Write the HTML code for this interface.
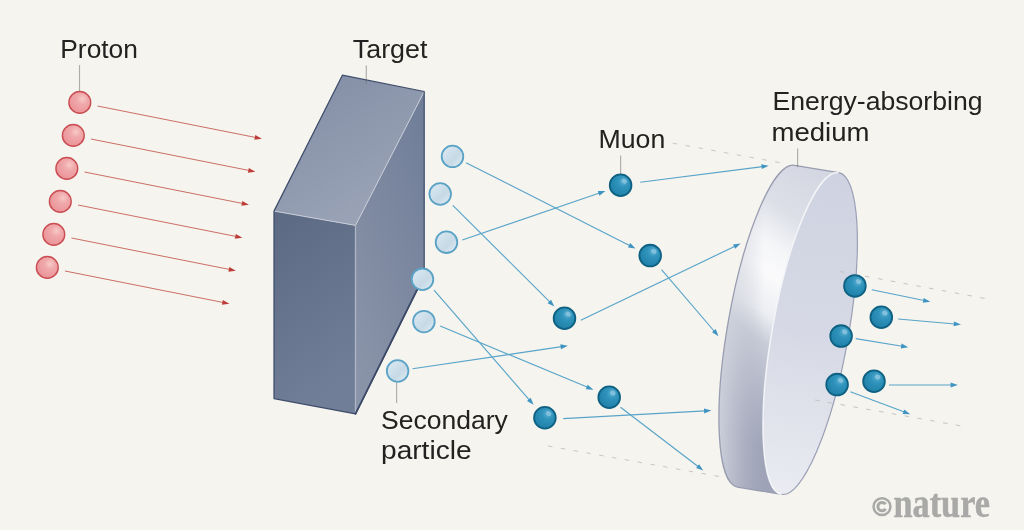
<!DOCTYPE html>
<html><head><meta charset="utf-8"><title>Muon production</title>
<style>
html,body{margin:0;padding:0;background:#f5f4ee;}
body{width:1024px;height:530px;overflow:hidden;font-family:"Liberation Sans",sans-serif;}
svg{display:block;will-change:transform;}
text{font-family:"Liberation Sans",sans-serif;fill:#222220;}
.lbl{font-size:25.2px;}
</style></head><body>
<svg width="1024" height="530" viewBox="0 0 1024 530">
<defs>
<radialGradient id="gP" cx="0.62" cy="0.34" r="0.7">
<stop offset="0" stop-color="#f7cbc8"/><stop offset="0.35" stop-color="#f0a9ab"/><stop offset="1" stop-color="#ea9297"/>
</radialGradient>
<linearGradient id="gS" x1="0.15" y1="0.15" x2="0.85" y2="0.85">
<stop offset="0" stop-color="#d8e7f1"/><stop offset="0.5" stop-color="#c9dce8"/><stop offset="0.62" stop-color="#c6d9e5"/><stop offset="1" stop-color="#d8e7f0"/>
</linearGradient>
<radialGradient id="gM" cx="0.64" cy="0.32" r="0.75">
<stop offset="0" stop-color="#5fb0d3"/><stop offset="0.35" stop-color="#2f93bb"/><stop offset="1" stop-color="#1e7fa6"/>
</radialGradient>
<linearGradient id="gTop" x1="0" y1="0" x2="0.6" y2="1">
<stop offset="0" stop-color="#808ca4"/><stop offset="1" stop-color="#9ba4b7"/>
</linearGradient>
<linearGradient id="gFront" x1="0" y1="0" x2="0.3" y2="1">
<stop offset="0" stop-color="#5b6983"/><stop offset="1" stop-color="#707e97"/>
</linearGradient>
<linearGradient id="gRight" x1="0.8" y1="0" x2="0.2" y2="1">
<stop offset="0" stop-color="#727f99"/><stop offset="1" stop-color="#8a94a9"/>
</linearGradient>
<linearGradient id="gSide" gradientUnits="userSpaceOnUse" x1="832.5" y1="171.4" x2="657" y2="426.8">
<stop offset="0" stop-color="#d3d6e1"/><stop offset="0.19" stop-color="#dcdfe7"/><stop offset="0.306" stop-color="#f5f6f8"/><stop offset="0.387" stop-color="#fafafb"/><stop offset="0.5" stop-color="#eceef2"/><stop offset="0.58" stop-color="#c8ccd8"/><stop offset="0.777" stop-color="#a9aec0"/><stop offset="0.865" stop-color="#9fa4b8"/><stop offset="1" stop-color="#9da2b6"/>
</linearGradient>
<linearGradient id="gSideTop" gradientUnits="userSpaceOnUse" x1="716" y1="0" x2="764" y2="0">
<stop offset="0" stop-color="#d6d9e2" stop-opacity="0.9"/><stop offset="0.35" stop-color="#d0d3dd" stop-opacity="0.55"/><stop offset="1" stop-color="#b0b4c4" stop-opacity="0"/>
</linearGradient>
<linearGradient id="gFace" gradientUnits="userSpaceOnUse" x1="840" y1="175" x2="785" y2="490">
<stop offset="0" stop-color="#cfd2e0"/><stop offset="0.5" stop-color="#d6d9e5"/><stop offset="1" stop-color="#e9ebf1"/>
</linearGradient>
</defs>
<rect width="1024" height="530" fill="#f5f4ee"/>

<g stroke="#c8c8c4" stroke-width="1" fill="none" stroke-dasharray="4.5 8.5">
<line x1="672.8" y1="143.2" x2="781" y2="162.8"/>
<line x1="548" y1="446" x2="725" y2="477.5"/>
</g>
<g stroke-linejoin="round">
<polygon points="342.4,75.2 424.2,91.5 355.5,225.4 274,211.1" fill="url(#gTop)"/>
<polygon points="274,211.1 355.5,225.4 355.5,413.9 274,398.6" fill="url(#gFront)"/>
<polygon points="355.5,225.4 424.2,91.5 424.2,275.5 355.5,413.9" fill="url(#gRight)"/>
<polyline points="274,211.1 355.5,225.4 424.2,91.5" fill="none" stroke="#c9ced9" stroke-width="1"/>
<line x1="355.5" y1="225.4" x2="355.5" y2="413.9" stroke="#aeb6c7" stroke-width="1.3"/>
<polygon points="342.4,75.2 424.2,91.5 424.2,275.5 355.5,413.9 274,398.6 274,211.1" fill="none" stroke="#3f4d6c" stroke-width="1.25"/>
<polyline points="424.2,275.5 355.5,413.9" fill="none" stroke="#3b4968" stroke-width="1.7" stroke-linecap="round"/>
</g>
<line x1="97.5" y1="106.0" x2="255.8" y2="137.5" stroke="#c8675e" stroke-width="0.95"/><polygon points="261.9,138.7 254.4,139.7 255.3,134.9" fill="#be3d38"/>
<line x1="91.0" y1="139.0" x2="249.3" y2="170.5" stroke="#c8675e" stroke-width="0.95"/><polygon points="255.4,171.7 247.9,172.7 248.8,167.9" fill="#be3d38"/>
<line x1="84.5" y1="172.0" x2="242.8" y2="203.5" stroke="#c8675e" stroke-width="0.95"/><polygon points="248.9,204.7 241.4,205.7 242.3,200.9" fill="#be3d38"/>
<line x1="78.0" y1="205.0" x2="236.3" y2="236.5" stroke="#c8675e" stroke-width="0.95"/><polygon points="242.4,237.7 234.9,238.7 235.8,233.9" fill="#be3d38"/>
<line x1="71.5" y1="238.0" x2="229.8" y2="269.5" stroke="#c8675e" stroke-width="0.95"/><polygon points="235.9,270.7 228.4,271.7 229.3,266.9" fill="#be3d38"/>
<line x1="65.0" y1="271.0" x2="223.3" y2="302.5" stroke="#c8675e" stroke-width="0.95"/><polygon points="229.4,303.7 221.9,304.7 222.8,299.9" fill="#be3d38"/>
<circle cx="79.8" cy="102.4" r="10.9" fill="url(#gP)" stroke="#c94d52" stroke-width="1.4"/>
<circle cx="73.3" cy="135.4" r="10.9" fill="url(#gP)" stroke="#c94d52" stroke-width="1.4"/>
<circle cx="66.8" cy="168.4" r="10.9" fill="url(#gP)" stroke="#c94d52" stroke-width="1.4"/>
<circle cx="60.3" cy="201.4" r="10.9" fill="url(#gP)" stroke="#c94d52" stroke-width="1.4"/>
<circle cx="53.8" cy="234.4" r="10.9" fill="url(#gP)" stroke="#c94d52" stroke-width="1.4"/>
<circle cx="47.3" cy="267.4" r="10.9" fill="url(#gP)" stroke="#c94d52" stroke-width="1.4"/>
<g>
<path d="M838.71,172.61 L794.41,165.31 A38.1,163.4 10.09 0 0 737.39,487.09 L781.69,494.39 A38.1,163.4 10.09 0 1 838.71,172.61 Z" fill="url(#gSide)"/>
<path d="M838.71,172.61 L794.41,165.31 A38.1,163.4 10.09 0 0 737.39,487.09 L781.69,494.39 A38.1,163.4 10.09 0 1 838.71,172.61 Z" fill="url(#gSideTop)"/>
<path d="M838.71,172.61 L794.41,165.31 A38.1,163.4 10.09 0 0 737.39,487.09 L781.69,494.39" fill="none" stroke="#999db1" stroke-width="1.3" stroke-linejoin="round"/>
<path d="M838.71,172.61 A38.1,163.4 10.09 0 0 781.69,494.39 A38.1,163.4 10.09 0 0 838.71,172.61 Z" fill="url(#gFace)"/>
<path d="M838.7,172.6 A38.1,163.4 10.09 0 0 781.7,494.4" fill="none" stroke="#f3f4f7" stroke-width="1.5"/>
<path d="M838.7,172.6 A38.1,163.4 10.09 0 1 781.7,494.4" fill="none" stroke="#9b9fb6" stroke-width="1.2"/>
</g>
<g stroke="#c4c4c2" stroke-width="1" fill="none" stroke-dasharray="4.5 8.5">
<line x1="839.6" y1="271.5" x2="988" y2="299"/>
<line x1="815" y1="400" x2="965" y2="426.6"/>
</g>
<line x1="466.0" y1="162.7" x2="630.0" y2="245.7" stroke="#58a4c9" stroke-width="1.15"/><polygon points="635.5,248.5 628.0,247.4 630.2,243.1" fill="#3f94c1"/>
<line x1="462.3" y1="240.0" x2="599.5" y2="193.0" stroke="#58a4c9" stroke-width="1.15"/><polygon points="605.4,191.0 599.4,195.7 597.8,191.0" fill="#3f94c1"/>
<line x1="452.8" y1="205.3" x2="550.0" y2="302.1" stroke="#58a4c9" stroke-width="1.15"/><polygon points="554.4,306.5 547.6,303.2 551.0,299.7" fill="#3f94c1"/>
<line x1="434.0" y1="290.2" x2="529.5" y2="400.1" stroke="#58a4c9" stroke-width="1.15"/><polygon points="533.6,404.8 527.0,401.0 530.7,397.8" fill="#3f94c1"/>
<line x1="440.2" y1="326.0" x2="587.7" y2="387.3" stroke="#58a4c9" stroke-width="1.15"/><polygon points="593.4,389.7 585.8,389.2 587.7,384.7" fill="#3f94c1"/>
<line x1="412.6" y1="368.8" x2="561.7" y2="346.6" stroke="#58a4c9" stroke-width="1.15"/><polygon points="567.8,345.7 561.0,349.2 560.3,344.3" fill="#3f94c1"/>
<line x1="580.8" y1="320.3" x2="735.0" y2="246.2" stroke="#58a4c9" stroke-width="1.15"/><polygon points="740.6,243.5 735.2,248.8 733.0,244.4" fill="#3f94c1"/>
<line x1="640.2" y1="182.3" x2="762.6" y2="166.6" stroke="#58a4c9" stroke-width="1.15"/><polygon points="768.7,165.8 761.9,169.1 761.2,164.3" fill="#3f94c1"/>
<line x1="661.5" y1="269.7" x2="714.5" y2="331.5" stroke="#58a4c9" stroke-width="1.15"/><polygon points="718.5,336.2 712.0,332.3 715.7,329.1" fill="#3f94c1"/>
<line x1="620.5" y1="407.3" x2="698.4" y2="466.7" stroke="#58a4c9" stroke-width="1.15"/><polygon points="703.3,470.5 696.1,468.1 699.1,464.2" fill="#3f94c1"/>
<line x1="563.2" y1="418.6" x2="705.1" y2="410.9" stroke="#58a4c9" stroke-width="1.15"/><polygon points="711.3,410.6 704.2,413.4 704.0,408.5" fill="#3f94c1"/>
<line x1="871.8" y1="289.8" x2="924.2" y2="300.5" stroke="#58a4c9" stroke-width="1.15"/><polygon points="930.3,301.7 922.8,302.7 923.7,297.9" fill="#3f94c1"/>
<line x1="898.2" y1="319.0" x2="954.8" y2="324.0" stroke="#58a4c9" stroke-width="1.15"/><polygon points="961.0,324.5 953.6,326.3 954.0,321.4" fill="#3f94c1"/>
<line x1="855.8" y1="338.6" x2="902.2" y2="346.2" stroke="#58a4c9" stroke-width="1.15"/><polygon points="908.3,347.2 900.8,348.5 901.6,343.6" fill="#3f94c1"/>
<line x1="889.0" y1="385.0" x2="951.6" y2="385.0" stroke="#58a4c9" stroke-width="1.15"/><polygon points="957.8,385.0 950.6,387.4 950.6,382.6" fill="#3f94c1"/>
<line x1="850.4" y1="391.8" x2="904.4" y2="412.0" stroke="#58a4c9" stroke-width="1.15"/><polygon points="910.2,414.2 902.6,414.0 904.3,409.4" fill="#3f94c1"/>
<circle cx="452.5" cy="156.4" r="10.8" fill="url(#gS)" stroke="#5aa3c6" stroke-width="1.8"/>
<circle cx="440.2" cy="194" r="10.8" fill="url(#gS)" stroke="#5aa3c6" stroke-width="1.8"/>
<circle cx="446.5" cy="242.2" r="10.8" fill="url(#gS)" stroke="#5aa3c6" stroke-width="1.8"/>
<circle cx="422.5" cy="279.3" r="10.8" fill="url(#gS)" stroke="#5aa3c6" stroke-width="1.8"/>
<circle cx="423.9" cy="321.6" r="10.8" fill="url(#gS)" stroke="#5aa3c6" stroke-width="1.8"/>
<circle cx="397.6" cy="371" r="10.8" fill="url(#gS)" stroke="#5aa3c6" stroke-width="1.8"/>
<circle cx="620.6" cy="185.3" r="10.85" fill="url(#gM)" stroke="#0e6182" stroke-width="1.8"/>
<ellipse cx="624.2" cy="181.10000000000002" rx="2.8" ry="2.3" fill="#8cc6e0" opacity="0.8" transform="rotate(35 624.2 181.10000000000002)"/>
<circle cx="650.2" cy="255.6" r="10.85" fill="url(#gM)" stroke="#0e6182" stroke-width="1.8"/>
<ellipse cx="653.8000000000001" cy="251.4" rx="2.8" ry="2.3" fill="#8cc6e0" opacity="0.8" transform="rotate(35 653.8000000000001 251.4)"/>
<circle cx="564.5" cy="318.3" r="10.85" fill="url(#gM)" stroke="#0e6182" stroke-width="1.8"/>
<ellipse cx="568.1" cy="314.1" rx="2.8" ry="2.3" fill="#8cc6e0" opacity="0.8" transform="rotate(35 568.1 314.1)"/>
<circle cx="609.2" cy="397.2" r="10.85" fill="url(#gM)" stroke="#0e6182" stroke-width="1.8"/>
<ellipse cx="612.8000000000001" cy="393.0" rx="2.8" ry="2.3" fill="#8cc6e0" opacity="0.8" transform="rotate(35 612.8000000000001 393.0)"/>
<circle cx="544.9" cy="417.8" r="10.85" fill="url(#gM)" stroke="#0e6182" stroke-width="1.8"/>
<ellipse cx="548.5" cy="413.6" rx="2.8" ry="2.3" fill="#8cc6e0" opacity="0.8" transform="rotate(35 548.5 413.6)"/>
<circle cx="854.9" cy="285.9" r="10.85" fill="url(#gM)" stroke="#0e6182" stroke-width="1.8"/>
<ellipse cx="858.5" cy="281.7" rx="2.8" ry="2.3" fill="#8cc6e0" opacity="0.8" transform="rotate(35 858.5 281.7)"/>
<circle cx="881.3" cy="317.2" r="10.85" fill="url(#gM)" stroke="#0e6182" stroke-width="1.8"/>
<ellipse cx="884.9" cy="313.0" rx="2.8" ry="2.3" fill="#8cc6e0" opacity="0.8" transform="rotate(35 884.9 313.0)"/>
<circle cx="841.1" cy="336.1" r="10.85" fill="url(#gM)" stroke="#0e6182" stroke-width="1.8"/>
<ellipse cx="844.7" cy="331.90000000000003" rx="2.8" ry="2.3" fill="#8cc6e0" opacity="0.8" transform="rotate(35 844.7 331.90000000000003)"/>
<circle cx="837.1" cy="384.6" r="10.85" fill="url(#gM)" stroke="#0e6182" stroke-width="1.8"/>
<ellipse cx="840.7" cy="380.40000000000003" rx="2.8" ry="2.3" fill="#8cc6e0" opacity="0.8" transform="rotate(35 840.7 380.40000000000003)"/>
<circle cx="874" cy="381.2" r="10.85" fill="url(#gM)" stroke="#0e6182" stroke-width="1.8"/>
<ellipse cx="877.6" cy="377.0" rx="2.8" ry="2.3" fill="#8cc6e0" opacity="0.8" transform="rotate(35 877.6 377.0)"/>
<g stroke="#6c6c6a" stroke-width="1.15" stroke-opacity="0.52" fill="none">
<line x1="79.5" y1="65" x2="79.5" y2="91"/>
<line x1="366.3" y1="65.5" x2="366.3" y2="84"/>
<line x1="620.6" y1="155.5" x2="620.6" y2="174"/>
<line x1="797.6" y1="148.5" x2="797.6" y2="167"/>
<line x1="396.6" y1="383" x2="396.6" y2="403"/>
</g>
<text class="lbl" x="60.3" y="57.6" textLength="77.6" lengthAdjust="spacingAndGlyphs">Proton</text>
<text class="lbl" x="352.8" y="57.5" textLength="74.6" lengthAdjust="spacingAndGlyphs">Target</text>
<text class="lbl" x="598.5" y="148.1" textLength="66.8" lengthAdjust="spacingAndGlyphs">Muon</text>
<text class="lbl" x="772.5" y="110.1" textLength="210" lengthAdjust="spacingAndGlyphs">Energy-absorbing</text>
<text class="lbl" x="771.5" y="140.6" textLength="98" lengthAdjust="spacingAndGlyphs">medium</text>
<text class="lbl" x="381" y="428.8" textLength="126.8" lengthAdjust="spacingAndGlyphs">Secondary</text>
<text class="lbl" x="381" y="459" textLength="90.6" lengthAdjust="spacingAndGlyphs">particle</text>
<text x="893.5" y="517" textLength="96.5" lengthAdjust="spacingAndGlyphs" style="font-family:'Liberation Serif',serif;font-weight:bold;font-size:41px;fill:#a9a9a8;stroke:#a9a9a8;stroke-width:0.5px;">nature</text>
<circle cx="882" cy="506.6" r="8.4" fill="none" stroke="#a9a9a8" stroke-width="2.5"/>
<path d="M885.6,504.3 A4.2,4.2 0 1 0 885.6,508.9" fill="none" stroke="#a9a9a8" stroke-width="3"/>
</svg></body></html>
